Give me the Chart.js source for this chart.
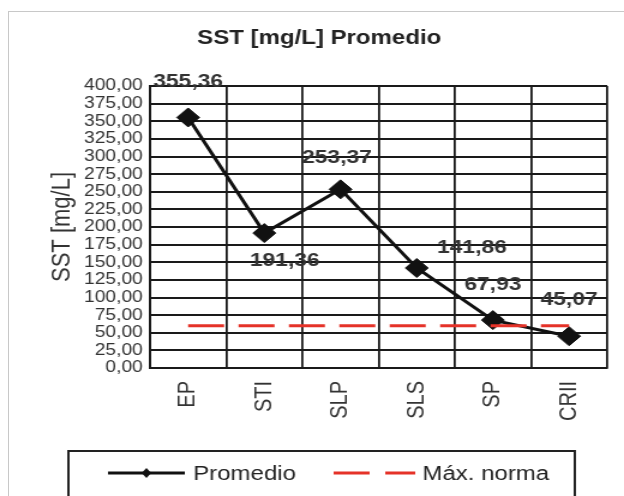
<!DOCTYPE html>
<html lang="es">
<head>
  <meta charset="UTF-8">
  <title>SST [mg/L] Promedio</title>
  <style>
    body { margin: 0; background: #fff; }
    .wrap { position: relative; width: 624px; height: 496px; overflow: hidden; }
    .marco { position: absolute; left: 8px; top: 11px; width: 700px; height: 600px; border-top: 1.5px solid #c8c8c8; border-left: 1.5px solid #c8c8c8; }
    /* el original es un grafico de Excel estirado en horizontal */
    #grafico { position: absolute; left: 0; top: 0; width: 624px !important; height: 496px !important; }
  </style>
  <script src="https://cdn.jsdelivr.net/npm/chart.js@4"></script>
</head>
<body>
  <div class="wrap">
    <div class="marco"></div>
    <canvas id="grafico" width="520" height="496" style="width:624px;height:496px"></canvas>
  </div>

  <script>
    // Datos
    const puntos = ["EP", "STI", "SLP", "SLS", "SP", "CRII"];
    const promedio = [355.36, 191.36, 253.37, 141.86, 67.93, 45.07];
    const maxNorma = [60, 60, 60, 60, 60, 60];
    const yTicks = { min: 0, max: 400, step: 25 };

    const FUENTE = "'Liberation Sans', Arial, sans-serif";
    const NEGRO = '#111';
    const ROJO = '#e53228';

    const fmt = v => v.toFixed(2).replace('.', ',');

    // etiquetas de valor sobre cada punto (desplazamiento dx, dy)
    const etiquetasPlugin = {
      id: 'etiquetas',
      afterDatasetsDraw(chart, args, opts) {
        const ctx = chart.ctx;
        const meta = chart.getDatasetMeta(0);
        ctx.save();
        ctx.font = 'bold 19px ' + FUENTE;
        ctx.fillStyle = '#333';
        ctx.textAlign = 'center';
        ctx.textBaseline = 'middle';
        meta.data.forEach((p, i) => {
          const [dx, dy] = opts.offsets[i];
          ctx.fillText(fmt(promedio[i]), p.x + dx, p.y + dy);
        });
        ctx.restore();
      }
    };

    // leyenda con recuadro, como en Excel
    const leyendaPlugin = {
      id: 'leyendaCaja',
      afterDraw(chart) {
        const ctx = chart.ctx;
        const ds = chart.data.datasets;
        const y = 473;
        ctx.save();
        ctx.strokeStyle = '#222';
        ctx.lineWidth = 2;
        ctx.strokeRect(57, 451, 422, 50);

        ctx.strokeStyle = ds[0].borderColor;
        ctx.lineWidth = 3;
        ctx.beginPath(); ctx.moveTo(90, y); ctx.lineTo(154, y); ctx.stroke();
        ctx.fillStyle = ds[0].borderColor;
        ctx.beginPath();
        ctx.moveTo(122, y - 5); ctx.lineTo(126, y); ctx.lineTo(122, y + 5); ctx.lineTo(118, y);
        ctx.closePath(); ctx.fill();

        ctx.strokeStyle = ds[1].borderColor;
        ctx.setLineDash([30, 13]);
        ctx.beginPath(); ctx.moveTo(278, y); ctx.lineTo(346, y); ctx.stroke();
        ctx.setLineDash([]);

        ctx.font = '20px ' + FUENTE;
        ctx.fillStyle = '#222';
        ctx.textBaseline = 'middle';
        ctx.fillText(ds[0].label, 161, y + 1);
        ctx.fillText(ds[1].label, 352, y + 1);
        ctx.restore();
      }
    };

    Chart.defaults.font.family = FUENTE;

    new Chart(document.getElementById('grafico'), {
      type: 'line',
      data: {
        labels: puntos,
        datasets: [
          {
            label: 'Promedio',
            data: promedio,
            borderColor: NEGRO,
            backgroundColor: NEGRO,
            borderWidth: 3,
            tension: 0,
            pointStyle: 'rectRot',
            pointRadius: 9.5,
            pointBackgroundColor: NEGRO,
            pointBorderColor: NEGRO,
            pointBorderWidth: 1,
            order: 1
          },
          {
            label: 'Máx. norma',
            data: maxNorma,
            borderColor: ROJO,
            borderWidth: 3,
            borderDash: [30, 12],
            pointRadius: 0,
            tension: 0,
            order: 0
          }
        ]
      },
      options: {
        responsive: false,
        animation: false,
        devicePixelRatio: 1,
        layout: { padding: { left: 26, right: 14, top: 0, bottom: 52 } },
        plugins: {
          legend: { display: false },
          tooltip: { enabled: false },
          title: {
            display: true,
            text: 'SST [mg/L] Promedio',
            color: '#222',
            font: { size: 20, weight: 'bold' },
            padding: { top: 26, bottom: 36 }
          },
          etiquetas: {
            offsets: [[0, -36], [17, 28], [-3, -32], [46, -20], [0, -35], [0, -36]]
          }
        },
        scales: {
          x: {
            offset: true,
            grid: { offset: true, color: '#1a1a1a', lineWidth: 1.8, drawTicks: false },
            border: { color: '#1a1a1a', width: 1.8 },
            ticks: { minRotation: 90, maxRotation: 90, padding: 13, color: '#333', font: { size: 20 } },
            afterFit: s => { s.height = 76; }
          },
          y: {
            min: yTicks.min,
            max: yTicks.max,
            grid: { color: '#1a1a1a', lineWidth: 2, drawTicks: false },
            border: { color: '#1a1a1a', width: 2 },
            ticks: {
              stepSize: yTicks.step,
              autoSkip: false,
              padding: 6,
              color: '#333',
              font: { size: 16 },
              callback: v => fmt(v)
            },
            title: {
              display: true,
              text: 'SST [mg/L]',
              color: '#333',
              font: { size: 22 },
              padding: { top: 13, bottom: 0 }
            },
            afterFit: s => { s.width = 99; }
          }
        }
      },
      plugins: [etiquetasPlugin, leyendaPlugin]
    });
  </script>
</body>
</html>
